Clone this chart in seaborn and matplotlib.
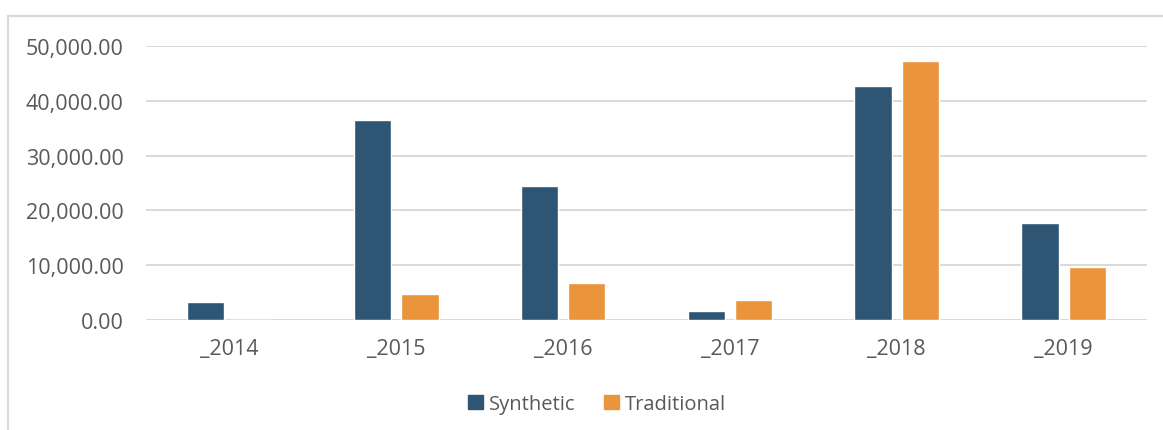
import matplotlib
matplotlib.use("Agg")
import matplotlib.pyplot as plt
import matplotlib.patches as mpatches
import matplotlib.ticker as mticker
import seaborn as sns
import pandas as pd

years = ["_2014", "_2015", "_2016", "_2017", "_2018", "_2019"]
synthetic = [3300, 36550, 24450, 1700, 42750, 17750]
traditional = [0, 4750, 6800, 3650, 47250, 9700]
series_names = ["Synthetic", "Traditional"]
colors = ["#2E5573", "#EA943B"]
yticks = [0, 10000, 20000, 30000, 40000, 50000]

df = pd.DataFrame({
    "year": years * 2,
    "value": synthetic + traditional,
    "series": [series_names[0]] * len(years) + [series_names[1]] * len(years),
})

sns.set_theme(style="white")
plt.rcParams["font.family"] = ["Open Sans", "DejaVu Sans"]

W, H = 1163, 431
fig = plt.figure(figsize=(W / 100, H / 100), dpi=100)
ax = fig.add_axes([146 / W, 1 - 321 / H, (1147 - 146) / W, (321 - 47) / H])

sns.barplot(data=df, x="year", y="value", hue="series", palette=colors,
            width=0.568, gap=0.21, ax=ax, saturation=1, legend=False, errorbar=None)

ax.set_ylim(0, 50000)
ax.set_xlim(-0.5, len(years) - 0.5)
ax.set_yticks(yticks)
ax.yaxis.set_major_formatter(mticker.FuncFormatter(lambda v, p: f"{v:,.2f}"))
ax.set_xlabel("")
ax.set_ylabel("")
for s in ax.spines.values():
    s.set_visible(False)
ax.grid(axis="y", color="#D9D9D9", linewidth=1.4)
ax.set_axisbelow(True)
ax.tick_params(axis="y", length=0, pad=16, labelsize=15.5, labelcolor="#595959")
ax.tick_params(axis="x", length=0, pad=13, labelsize=15.5, labelcolor="#595959")

handles = [mpatches.Patch(color=c, label=n) for c, n in zip(colors, series_names)]
fig.legend(handles=handles, loc="center", bbox_to_anchor=(597 / W, 1 - 405 / H),
           ncol=2, frameon=False, fontsize=14.5, labelcolor="#595959",
           handlelength=0.75, handleheight=0.75, handletextpad=0.3, columnspacing=1.4)

frame = mpatches.Rectangle((8 / W, -0.1), 1.2, 1.1 - 17 / H, transform=fig.transFigure,
                           fill=False, edgecolor="#D9D9D9", linewidth=1.5)
fig.patches.append(frame)

fig.savefig("out.png", dpi=100, facecolor="white")
